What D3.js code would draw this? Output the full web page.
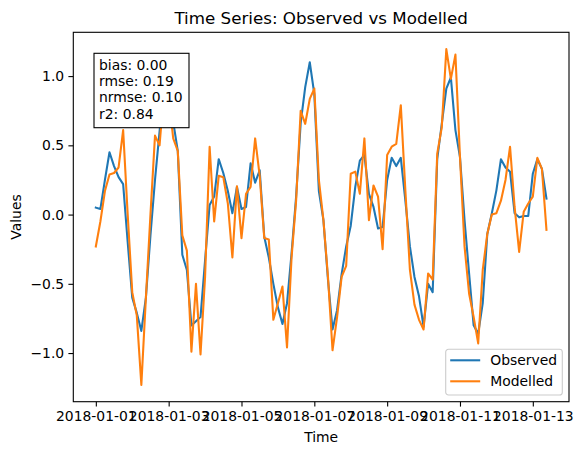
<!DOCTYPE html>
<html>
<head>
<meta charset="utf-8">
<script src="https://cdn.jsdelivr.net/npm/d3@7"></script>
<style>
	body { margin: 0; background: #fff; }
	svg { font-family: 'DejaVu Sans', sans-serif; }
</style>
</head>
<body>
<div id="chart"></div>
<script>
// Serie temporal: 100 pasos de 3 horas desde 2018-01-01
const startDate = '2018-01-01T00:00:00Z';
const stepHours = 3;

const observed = [
	0.05, 0.04, 0.25, 0.45, 0.35, 0.27, 0.22, -0.2, -0.6, -0.71,
	-0.84, -0.6, -0.15, 0.25, 0.6, 0.95, 0.9, 0.67, 0.46, -0.29,
	-0.4, -0.8, -0.77, -0.74, -0.33, 0.07, 0.13, 0.4, 0.3, 0.17,
	0.01, 0.2, 0.04, 0.055, 0.37, 0.23, 0.32, -0.16, -0.31, -0.5,
	-0.67, -0.79, -0.64, -0.28, 0.13, 0.66, 0.92, 1.1, 0.87, 0.17,
	-0.04, -0.47, -0.83, -0.69, -0.43, -0.23, -0.08, 0.2, 0.39, 0.43,
	0.15, 0.055, -0.1, -0.09, 0.25, 0.41, 0.35, 0.41, 0.1, -0.23,
	-0.45, -0.59, -0.81, -0.5, -0.56, 0.4, 0.655, 0.91, 0.99, 0.61,
	0.415, -0.04, -0.425, -0.8, -0.86, -0.64, -0.14, 0.01, 0.175, 0.4,
	0.34, 0.31, 0.01, -0.02, -0.01, -0.01, 0.295, 0.4, 0.33, 0.115
];

const modelled = [
	-0.23, -0.05, 0.17, 0.29, 0.3, 0.34, 0.61, 0.0, -0.56, -0.73,
	-1.23, -0.6, 0.0, 0.57, 0.5, 0.9, 0.85, 0.55, 0.46, -0.15,
	-0.26, -0.99, -0.5, -1.01, -0.45, 0.49, -0.05, 0.28, 0.27, 0.08,
	-0.31, 0.205, -0.17, 0.15, 0.2, 0.55, 0.28, -0.17, -0.18, -0.76,
	-0.64, -0.52, -0.96, -0.31, 0.1, 0.75, 0.655, 0.835, 0.91, 0.25,
	-0.04, -0.45, -0.98, -0.74, -0.45, -0.37, 0.295, 0.31, 0.15, 0.55,
	-0.04, 0.21, 0.13, -0.25, 0.43, 0.49, 0.51, 0.79, 0.175, -0.4,
	-0.65, -0.76, -0.83, -0.425, -0.47, 0.44, 0.63, 1.195, 0.98, 1.155,
	0.415, -0.23, -0.57, -0.74, -0.93, -0.4, -0.14, 0.0, 0.01, 0.1,
	0.25, 0.49, 0.055, -0.27, 0.02, 0.08, 0.13, 0.41, 0.33, -0.11
];

const xTickLabels = ['2018-01-01', '2018-01-03', '2018-01-05', '2018-01-07', '2018-01-09', '2018-01-11', '2018-01-13'];
const yTickValues = [-1.0, -0.5, 0.0, 0.5, 1.0];
const statsLines = ['bias: 0.00', 'rmse: 0.19', 'nrmse: 0.10', 'r2: 0.84'];
const seriesNames = ['Observed', 'Modelled'];
const seriesColors = ['#1f77b4', '#ff7f0e'];

// Dimensiones
const W = 582, H = 455;
const margin = { top: 32.3, right: 13, bottom: 53.3, left: 73.3 };
const width = W - margin.left - margin.right;
const height = H - margin.top - margin.bottom;

const t0 = new Date(startDate);
const times = observed.map((_, i) => d3.utcHour.offset(t0, i * stepHours));

const svg = d3
	.select('#chart')
	.append('svg')
	.attr('width', W)
	.attr('height', H);

const g = svg.append('g').attr('transform', `translate(${margin.left},${margin.top})`);

// Escalas con margen del 5% como matplotlib
const tExt = d3.extent(times);
const tPad = (tExt[1] - tExt[0]) * 0.05;
const x = d3
	.scaleUtc()
	.domain([new Date(+tExt[0] - tPad), new Date(+tExt[1] + tPad)])
	.range([0, width]);

const yExt = d3.extent(observed.concat(modelled));
const yPad = (yExt[1] - yExt[0]) * 0.05;
const y = d3.scaleLinear().domain([yExt[0] - yPad, yExt[1] + yPad]).range([height, 0]);

// Líneas
const line = d3
	.line()
	.x((d, i) => x(times[i]))
	.y((d) => y(d));

[observed, modelled].forEach((s, k) => {
	g.append('path')
		.datum(s)
		.attr('fill', 'none')
		.attr('stroke', seriesColors[k])
		.attr('stroke-width', 2.08)
		.attr('stroke-linejoin', 'round')
		.attr('stroke-linecap', 'square')
		.attr('d', line);
});

// Ejes
const fmtMinus = (v) => d3.format('.1f')(v).replace('-', '\u2212');
const xAxis = g
	.append('g')
	.attr('transform', `translate(0,${height})`)
	.call(
		d3.axisBottom(x)
			.tickValues(xTickLabels.map((s) => new Date(s + 'T00:00:00Z')))
			.tickFormat(d3.utcFormat('%Y-%m-%d'))
			.tickSize(4.9)
			.tickPadding(4.2),
	);
const yAxis = g
	.append('g')
	.call(d3.axisLeft(y).tickValues(yTickValues).tickFormat(fmtMinus).tickSize(4.9).tickPadding(4.2));

[xAxis, yAxis].forEach((a) => {
	a.select('.domain').remove();
	a.selectAll('.tick line').attr('stroke', '#000').attr('stroke-width', 1.1);
	a.selectAll('.tick text').attr('fill', '#000').attr('font-size', 13.9).attr('font-family', 'DejaVu Sans');
});

// Marco
g.append('rect')
	.attr('width', width)
	.attr('height', height)
	.attr('fill', 'none')
	.attr('stroke', '#000')
	.attr('stroke-width', 1.1);

// Cuadro de estadísticas
g.append('rect')
	.attr('x', 94 - margin.left)
	.attr('y', 53.3 - margin.top)
	.attr('width', 95)
	.attr('height', 74.4)
	.attr('fill', '#fff')
	.attr('stroke', '#000')
	.attr('stroke-width', 1.1);

g.append('g')
	.selectAll('text')
	.data(statsLines)
	.join('text')
	.attr('x', 99 - margin.left)
	.attr('y', (d, i) => 70 - margin.top + i * 16.2)
	.attr('font-size', 13.9)
	.text((d) => d);

// Leyenda
const leg = g.append('g').attr('transform', `translate(${445.7 - margin.left},${349.3 - margin.top})`);
leg.append('rect')
	.attr('width', 116.6)
	.attr('height', 45.7)
	.attr('rx', 2.8)
	.attr('fill', '#fff')
	.attr('fill-opacity', 0.8)
	.attr('stroke', '#cccccc')
	.attr('stroke-width', 1.1);
seriesNames.forEach((name, k) => {
	const cy = 11 + k * 21;
	leg.append('line')
		.attr('x1', 4.5)
		.attr('x2', 34.5)
		.attr('y1', cy)
		.attr('y2', cy)
		.attr('stroke', seriesColors[k])
		.attr('stroke-width', 2.08);
	leg.append('text')
		.attr('x', 44.5)
		.attr('y', cy + 5)
		.attr('font-size', 13.9)
		.text(name);
});

// Títulos
svg.append('text')
	.attr('x', margin.left + width / 2)
	.attr('y', 24)
	.attr('text-anchor', 'middle')
	.attr('font-size', 16.7)
	.text('Time Series: Observed vs Modelled');

svg.append('text')
	.attr('x', margin.left + width / 2)
	.attr('y', 442)
	.attr('text-anchor', 'middle')
	.attr('font-size', 13.9)
	.text('Time');

svg.append('text')
	.attr('transform', `translate(21,${margin.top + height / 2}) rotate(-90)`)
	.attr('text-anchor', 'middle')
	.attr('font-size', 13.9)
	.text('Values');
</script>
</body>
</html>
